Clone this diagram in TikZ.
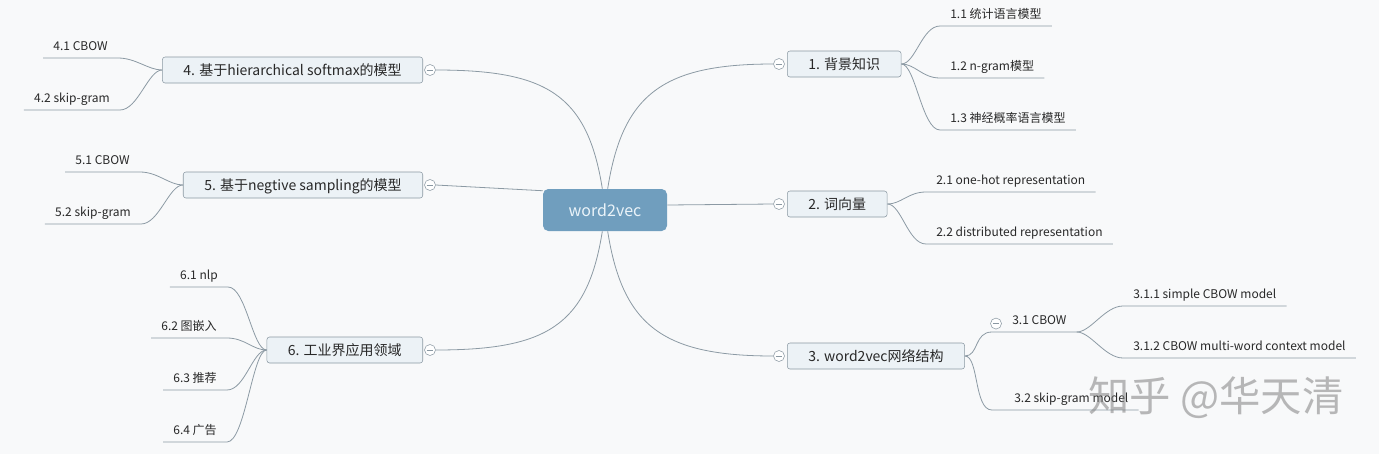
\documentclass[tikz,border=0pt]{standalone}
\usepackage{fontspec}
\setmainfont{Noto Sans CJK SC}
\usepackage{tikz}

\definecolor{bgcol}{RGB}{248,249,250}
\definecolor{linecol}{RGB}{140,154,164}
\definecolor{rootcol}{RGB}{112,158,190}
\definecolor{roottext}{RGB}{234,243,249}
\definecolor{topicfill}{RGB}{236,242,246}
\definecolor{topicdraw}{RGB}{138,152,162}
\definecolor{textcol}{RGB}{40,40,40}

\tikzset{
  rootnode/.style={fill=rootcol, rounded corners=4pt, minimum width=93pt, minimum height=31.5pt,
    text=roottext, font=\fontsize{12}{14}\selectfont},
  topic/.style={draw=topicdraw, fill=topicfill, rounded corners=2pt, inner xsep=15.75pt, inner ysep=0pt,
    minimum height=19.5pt, text height=8.6pt, text depth=0.8pt, text=textcol, font=\fontsize{10.5}{12}\selectfont},
  leaf/.style={inner xsep=7.5pt, inner ysep=0pt, text height=7pt, text depth=5.25pt, text=textcol,
    font=\fontsize{9}{11}\selectfont},
  toggle/.style={circle, draw=topicdraw, fill=white, inner sep=0pt, minimum size=8.25pt,
    path picture={\draw[topicdraw] ([xshift=-2.6pt]path picture bounding box.center) -- ([xshift=2.6pt]path picture bounding box.center);}},
  branch/.style={draw=linecol, line width=0.6pt},
}

\begin{document}
\begin{tikzpicture}[x=0.75pt,y=0.75pt,yscale=-1,xscale=1]
        %Background
        \fill[bgcol] (0,0) rectangle (1379,454);

        % Root Node
        \node[rootnode] (root) at (605,210) {word2vec};

        % Topic Nodes
        \node[topic, anchor=west] (n1) at (787,64) {1. 背景知识};
        \node[topic, anchor=west] (n2) at (787,204) {2. 词向量};
        \node[topic, anchor=west] (n3) at (787,356) {3. word2vec网络结构};
        \node[topic, anchor=east] (n4) at (423,70) {4. 基于hierarchical softmax的模型};
        \node[topic, anchor=east] (n5) at (423,185) {5. 基于negtive sampling的模型};
        \node[topic, anchor=east] (n6) at (423,350) {6. 工业界应用领域};

        % Toggles
        \node[toggle] (c1) at ([xshift=-6pt]n1.west) {};
        \node[toggle] (c2) at ([xshift=-6pt]n2.west) {};
        \node[toggle] (c3) at ([xshift=-6pt]n3.west) {};
        \node[toggle] (c4) at ([xshift=5.25pt]n4.east) {};
        \node[toggle] (c5) at ([xshift=5.25pt]n5.east) {};
        \node[toggle] (c6) at ([xshift=5.25pt]n6.east) {};

        % Text Node
        \node[leaf, anchor=south west] (l11) at (940,26) {1.1 统计语言模型};
        \node[leaf, anchor=south west] (l12) at (940,78) {1.2 n-gram模型};
        \node[leaf, anchor=south west] (l13) at (940,130) {1.3 神经概率语言模型};
        \node[leaf, anchor=south west] (l21) at (926,192) {2.1 one-hot representation};
        \node[leaf, anchor=south west] (l22) at (926,244) {2.2 distributed representation};
        \node[leaf, anchor=south west] (l31) at (1002,332) {3.1 CBOW};
        \node[leaf, anchor=south west] (l311) at (1123,306) {3.1.1 simple CBOW model};
        \node[leaf, anchor=south west] (l312) at (1123,358) {3.1.2 CBOW multi-word context model};
        \node[leaf, anchor=south west] (l32) at (1004,410) {3.2 skip-gram model};
        \node[toggle] (c31) at ([xshift=-4.5pt]l31.west) {};
        % Text Node
        \node[leaf, anchor=south east] (l41) at (118,58) {4.1 CBOW};
        \node[leaf, anchor=south east] (l42) at (120,110) {4.2 skip-gram};
        \node[leaf, anchor=south east] (l51) at (140,172) {5.1 CBOW};
        \node[leaf, anchor=south east] (l52) at (141,224) {5.2 skip-gram};
        \node[leaf, anchor=south east] (l61) at (228,287) {6.1 nlp};
        \node[leaf, anchor=south east] (l62) at (227,338) {6.2 图嵌入};
        \node[leaf, anchor=south east] (l63) at (227,390) {6.3 推荐};
        \node[leaf, anchor=south east] (l64) at (227,442) {6.4 广告};

        %Curve Lines from root
        \draw[branch] ([xshift=2pt]root.north) .. controls +(15,-95) and +(-110,0) .. (c1.west);
        \draw[branch] ([xshift=-2pt]root.north) .. controls +(-15,-95) and +(110,0) .. (c4.east);
        \draw[branch] ([xshift=2pt]root.south) .. controls +(15,95) and +(-110,0) .. (c3.west);
        \draw[branch] ([xshift=-2pt]root.south) .. controls +(-15,95) and +(110,0) .. (c6.east);
        %Straight Lines from root
        \draw[branch] ([yshift=-3.75pt]root.east) -- (c2.west);
        \draw[branch] ([yshift=1.5pt]root.north west) -- (c5.east);

        %Curve Lines to subtopics
        \draw[branch] (n1.east) .. controls +(14,0) and +(-18,0) .. (l11.south west) -- (l11.south east);
        \draw[branch] (n1.east) .. controls +(14,0) and +(-18,0) .. (l12.south west) -- (l12.south east);
        \draw[branch] (n1.east) .. controls +(14,0) and +(-18,0) .. (l13.south west) -- (l13.south east);
        \draw[branch] (n2.east) .. controls +(14,0) and +(-18,0) .. (l21.south west) -- (l21.south east);
        \draw[branch] (n2.east) .. controls +(14,0) and +(-18,0) .. (l22.south west) -- (l22.south east);
        \draw[branch] (n3.east) .. controls +(14,0) and +(-18,0) .. (c31.south west |- l31.south) -- (l31.south east);
        \draw[branch] (n3.east) .. controls +(14,0) and +(-18,0) .. (c31.south west |- l32.south) -- (l32.south east);
        \draw[branch] (l31.south east) .. controls +(14,0) and +(-18,0) .. (l311.south west) -- (l311.south east);
        \draw[branch] (l31.south east) .. controls +(14,0) and +(-18,0) .. (l312.south west) -- (l312.south east);
        \draw[branch] (n4.west) .. controls +(-14,0) and +(18,0) .. (l41.south east) -- (l41.south west);
        \draw[branch] (n4.west) .. controls +(-14,0) and +(18,0) .. (l42.south east) -- (l42.south west);
        \draw[branch] (n5.west) .. controls +(-14,0) and +(18,0) .. (l51.south east) -- (l51.south west);
        \draw[branch] (n5.west) .. controls +(-14,0) and +(18,0) .. (l52.south east) -- (l52.south west);
        \draw[branch] (n6.west) .. controls +(-14,0) and +(18,0) .. (l61.south east) -- (l61.south west);
        \draw[branch] (n6.west) .. controls +(-14,0) and +(18,0) .. (l62.south east) -- (l62.south west);
        \draw[branch] (n6.west) .. controls +(-14,0) and +(18,0) .. (l63.south east) -- (l63.south west);
        \draw[branch] (n6.west) .. controls +(-14,0) and +(18,0) .. (l64.south east) -- (l64.south west);

        % Watermark
        \node[text=gray, opacity=0.55, font=\fontsize{31}{34}\selectfont] (mark) at (1216,398) {知乎 @华天清};
\end{tikzpicture}
\end{document}
